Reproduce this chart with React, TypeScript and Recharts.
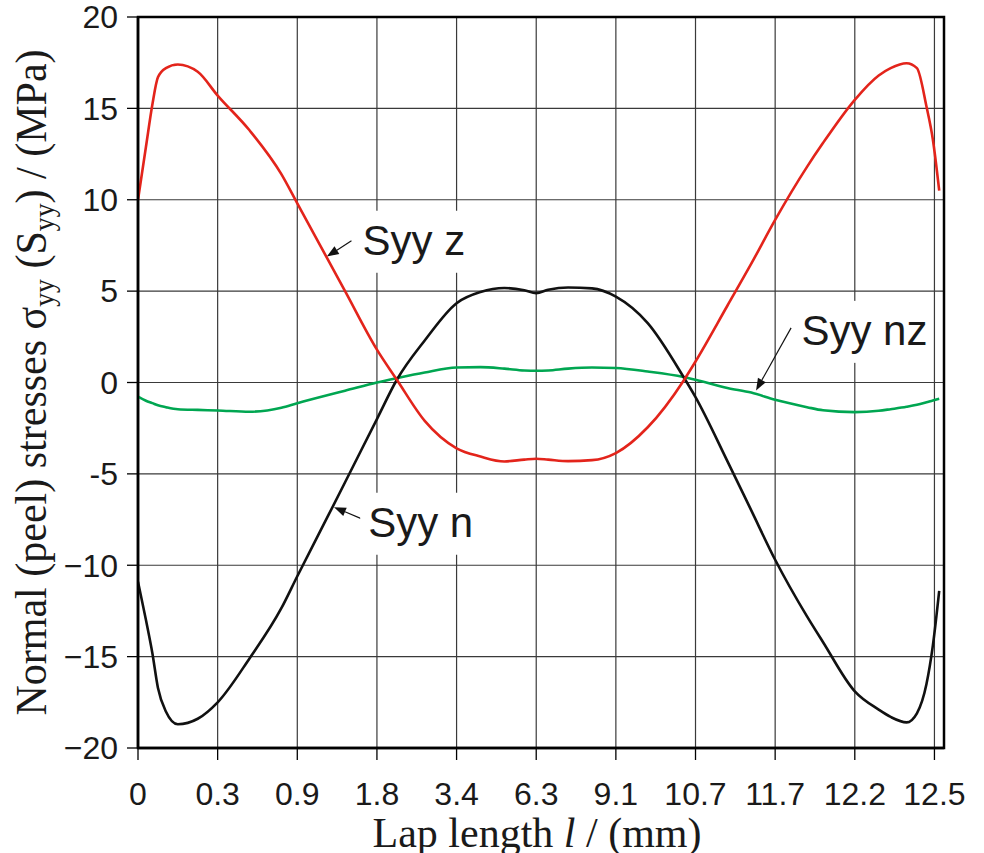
import React from 'react';
import {
  LineChart,
  Line,
  XAxis,
  YAxis,
  CartesianGrid,
  ReferenceLine,
  ReferenceDot,
  ReferenceArea,
  Label,
} from 'recharts';

// Equally spaced category positions (index) and their tick labels
const tickPositions = [0, 1, 2, 3, 4, 5, 6, 7, 8, 9, 10];
const tickLabels = ['0', '0.3', '0.9', '1.8', '3.4', '6.3', '9.1', '10.7', '11.7', '12.2', '12.5'];
const yTicks = [-20, -15, -10, -5, 0, 5, 10, 15, 20];
const yTickLabels = ['\u221220', '\u221215', '\u221210', '-5', '0', '5', '10', '15', '20'];

// Sample positions along the (index) x axis
const positions = [
  0, 0.1, 0.18, 0.25, 0.35, 0.5, 0.75, 1.0, 1.4, 1.8, 2.0, 2.4, 2.6, 3.0, 3.25, 3.6, 4.0, 4.3, 4.6, 4.85, 5.0,
  5.15, 5.4, 5.7, 6.0, 6.4, 6.85, 7.0, 7.4, 7.7, 8.0, 8.4, 8.6, 9.0, 9.3, 9.45, 9.65, 9.78, 9.9, 9.98, 10.06,
];

const syyZ = [
  10.0, 12.9, 15.2, 16.7, 17.2, 17.4, 17.0, 15.7, 13.8, 11.4, 9.8, 6.6, 5.0, 1.8, 0.15, -2.1, -3.6, -4.05, -4.32, -4.22, -4.17,
  -4.22, -4.3, -4.25, -3.86, -2.45, 0.1, 1.15, 4.2, 6.5, 8.9, 11.8, 13.1, 15.47, 16.8, 17.2, 17.47, 17.2, 15.1, 13.3, 10.5,
];

const syyN = [
  -10.9, -13.0, -14.8, -16.7, -18.0, -18.7, -18.4, -17.5, -15.1, -12.35, -10.6, -7.18, -5.46, -2.0, 0.15, 2.3, 4.34, 4.95, 5.17, 5.05, 4.89,
  5.07, 5.2, 5.15, 4.7, 3.25, 0.3, -0.8, -4.3, -7.0, -9.7, -12.8, -14.2, -16.9, -17.9, -18.3, -18.6, -18.1, -16.5, -14.4, -11.4,
];

const syyNZ = [
  -0.77, -1.0, -1.13, -1.25, -1.35, -1.46, -1.5, -1.53, -1.6, -1.38, -1.13, -0.67, -0.45, 0.0, 0.24, 0.55, 0.82, 0.84, 0.76, 0.66, 0.64,
  0.66, 0.76, 0.82, 0.79, 0.6, 0.3, 0.15, -0.3, -0.55, -0.95, -1.35, -1.52, -1.62, -1.55, -1.46, -1.33, -1.22, -1.08, -0.98, -0.89,
];

// Annotations (data coordinates)
const annLabels = ['Syy z', 'Syy n', 'Syy nz'];
const annTextX = [2.82, 2.89, 8.33];
const annTextY = [6.99, -8.44, 2.06];
const annTailX = [2.68, 2.81, 8.2];
const annTailY = [7.75, -7.46, 2.99];
const annTipX = [2.37, 2.46, 7.76];
const annTipY = [6.89, -6.82, -0.44];

const data = positions.map((p, i) => ({ p, z: syyZ[i], n: syyN[i], nz: syyNZ[i] }));

const SANS = '"Liberation Sans", Arial, Helvetica, sans-serif';
const SERIF = '"Liberation Serif", "Times New Roman", Times, serif';
const TEXT = '#1a1a1a';

const ArrowShape = (props: any) => {
  const { x1, y1, x2, y2 } = props;
  if ([x1, y1, x2, y2].some((v) => typeof v !== 'number' || isNaN(v))) return <g />;
  const dx = x2 - x1;
  const dy = y2 - y1;
  const len = Math.sqrt(dx * dx + dy * dy) || 1;
  const ux = dx / len;
  const uy = dy / len;
  const hl = 12;
  const hw = 4.5;
  const bx = x2 - ux * hl;
  const by = y2 - uy * hl;
  const px = -uy;
  const py = ux;
  return (
    <g>
      <line x1={x1} y1={y1} x2={bx} y2={by} stroke="#111" strokeWidth={1.2} />
      <polygon
        points={`${x2},${y2} ${bx + px * hw},${by + py * hw} ${bx - px * hw},${by - py * hw}`}
        fill="#111"
      />
    </g>
  );
};

const makeTextShape = (text: string) => (props: any) => {
  const { cx, cy } = props;
  if (typeof cx !== 'number' || typeof cy !== 'number') return <g />;
  const w = text.length * 21 + 12;
  return (
    <g>
      <rect x={cx - 8} y={cy - 44} width={w} height={62} fill="#fff" />
      <text x={cx} y={cy} fontFamily={SANS} fontSize={42} fill={TEXT}>
        {text}
      </text>
    </g>
  );
};

const YTitle = (props: any) => {
  const vb = props.viewBox || {};
  const cy = (vb.y ?? 17) + (vb.height ?? 731) / 2;
  const x = 46;
  const sub = { fontSize: 29 };
  return (
    <text
      x={0}
      y={0}
      transform={`translate(${x}, ${cy}) rotate(-90) scale(0.955, 1)`}
      textAnchor="middle"
      fontFamily={SERIF}
      fontSize={44}
      fill={TEXT}
    >
      <tspan>Normal (peel) stresses σ</tspan>
      <tspan {...sub} dy={8}>yy</tspan>
      <tspan dy={-8}> (S</tspan>
      <tspan {...sub} dy={8}>yy</tspan>
      <tspan dy={-8}>) / (MPa)</tspan>
    </text>
  );
};

const XTitle = (props: any) => {
  const vb = props.viewBox || {};
  const cx = (vb.x ?? 138) + (vb.width ?? 806) / 2 - 4;
  return (
    <text x={cx} y={847} textAnchor="middle" fontFamily={SERIF} fontSize={42} fill={TEXT}>
      <tspan>Lap length </tspan>
      <tspan fontStyle="italic">l</tspan>
      <tspan> / (mm)</tspan>
    </text>
  );
};

export default function App() {
  return (
    <div style={{ position: 'absolute', left: 0, top: 0, width: 984, height: 853, background: '#fff' }}>
      <LineChart
        width={984}
        height={853}
        data={data}
        margin={{ top: 17, right: 40, bottom: 0, left: 0 }}
      >
        <CartesianGrid stroke="#3a3a3a" strokeWidth={1.2} />
        <XAxis
          dataKey="p"
          type="number"
          domain={[0, 10.12]}
          ticks={tickPositions}
          tickFormatter={(v: number) => tickLabels[Math.round(v)] ?? ''}
          height={105}
          interval={0}
          allowDataOverflow
          axisLine={{ stroke: '#000', strokeWidth: 2.5 }}
          tickLine={{ stroke: '#000', strokeWidth: 1.3 }}
          tickSize={12}
          tickMargin={22}
          tick={{ fill: TEXT, fontSize: 32, fontFamily: SANS }}
        >
          <Label content={<XTitle />} position="bottom" />
        </XAxis>
        <YAxis
          type="number"
          domain={[-20, 20]}
          ticks={yTicks}
          tickFormatter={(v: number) => yTickLabels[yTicks.indexOf(v)] ?? String(v)}
          width={138}
          interval={0}
          allowDataOverflow
          axisLine={{ stroke: '#000', strokeWidth: 2.5 }}
          tickLine={{ stroke: '#000', strokeWidth: 1.3 }}
          tickSize={11}
          tickMargin={9}
          tick={{ fill: TEXT, fontSize: 32, fontFamily: SANS }}
        >
          <Label content={<YTitle />} position="left" />
        </YAxis>
        <ReferenceArea
          x1={0}
          x2={10.12}
          y1={-20}
          y2={20}
          fill="none"
          fillOpacity={0}
          stroke="#000"
          strokeWidth={2.5}
          ifOverflow="visible"
        />
        {annLabels.map((t, i) => (
          <ReferenceDot
            key={'t' + i}
            x={annTextX[i]}
            y={annTextY[i]}
            r={0}
            ifOverflow="visible"
            shape={makeTextShape(t)}
          />
        ))}
        {annLabels.map((t, i) => (
          <ReferenceLine
            key={'a' + i}
            segment={[
              { x: annTailX[i], y: annTailY[i] },
              { x: annTipX[i], y: annTipY[i] },
            ]}
            ifOverflow="visible"
            shape={ArrowShape}
          />
        ))}
        <Line
          type="monotone"
          dataKey="nz"
          stroke="#00a651"
          strokeWidth={2.6}
          dot={false}
          isAnimationActive={false}
        />
        <Line
          type="monotone"
          dataKey="n"
          stroke="#111111"
          strokeWidth={2.6}
          dot={false}
          isAnimationActive={false}
        />
        <Line
          type="monotone"
          dataKey="z"
          stroke="#e3241b"
          strokeWidth={2.6}
          dot={false}
          isAnimationActive={false}
        />
      </LineChart>
    </div>
  );
}
